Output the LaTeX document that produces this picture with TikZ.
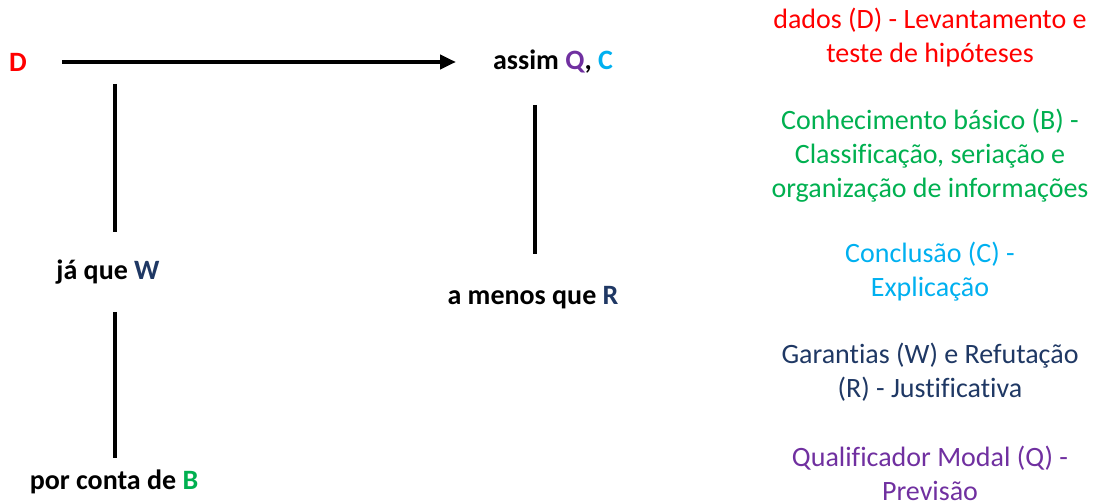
\documentclass[tikz,border=0pt]{standalone}
\usepackage{fontspec}
\setmainfont{Carlito}[Ligatures={NoCommon}]
\usetikzlibrary{arrows.meta}
\definecolor{cred}{HTML}{FF0000}
\definecolor{cgreen}{HTML}{00B050}
\definecolor{cblue}{HTML}{00B0F0}
\definecolor{cdark}{HTML}{1F3864}
\definecolor{cpurple}{HTML}{7030A0}
\tikzset{
  lbl/.style={inner sep=0pt, font=\fontsize{28}{32}\selectfont\bfseries},
  blk/.style={inner sep=0pt, align=center, font=\fontsize{28}{34}\selectfont},
  conn/.style={line width=4pt},
}
\begin{document}
\begin{tikzpicture}[x=1pt,y=-1pt]
\useasboundingbox (0,0) rectangle (1097,502);
% left diagram
\node[lbl, text=cred] (D) at (18,62) {D};
\node[lbl] (assim) at (553,62) {assim \textcolor{cpurple}{Q}, \textcolor{cblue}{C}};
\node[lbl] (jaque) at (108,272) {já que \textcolor{cdark}{W}};
\node[lbl] (amenos) at (533,298) {a menos que \textcolor{cdark}{R}};
\node[lbl] (porconta) at (114,482) {por conta de \textcolor{cgreen}{B}};
\coordinate (a1) at (62,62);
\coordinate (a2) at (456,62);
\coordinate (w1) at (115,84);
\coordinate (w2) at (115,232);
\coordinate (b1) at (115,312);
\coordinate (b2) at (115,458);
\coordinate (r1) at (535,105);
\coordinate (r2) at (535,254);
\draw[conn, -{Triangle[length=16pt,width=14pt]}] (a1) -- (a2);
\draw[conn] (w1) -- (w2);
\draw[conn] (b1) -- (b2);
\draw[conn] (r1) -- (r2);
% legend
\node[blk, text=cred] (ld) at (930,37.5) {dados (D) - Levantamento e\\teste de hipóteses};
\node[blk, text=cgreen] (lb) at (930,156) {Conhecimento básico (B) -\\Classificação, seriação e\\organização de informações};
\node[blk, text=cblue] (lc) at (930,272) {Conclusão (C) -\\Explicação};
\node[blk, text=cdark] (lw) at (930,372) {Garantias (W) e Refutação\\(R) - Justificativa};
\node[blk, text=cpurple] (lq) at (930,473) {Qualificador Modal (Q) -\\Previsão};
\end{tikzpicture}
\end{document}
